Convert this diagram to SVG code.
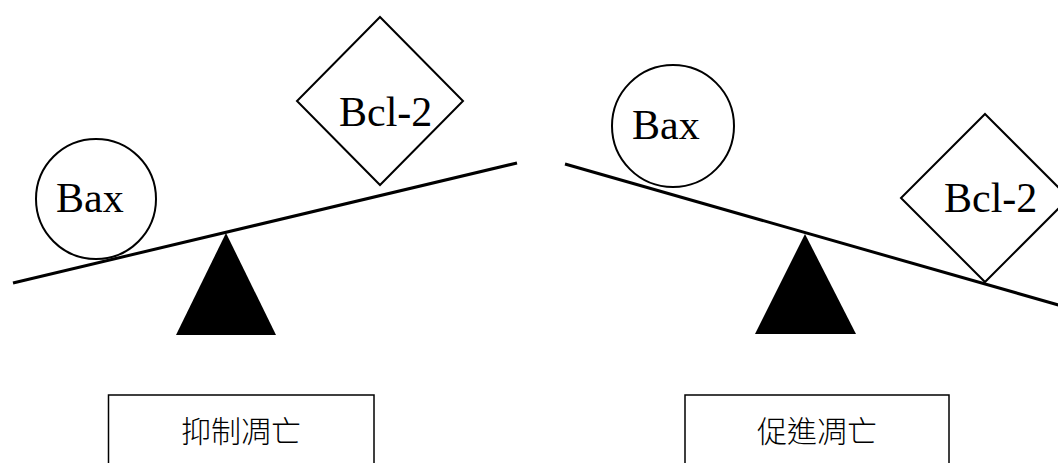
<svg xmlns="http://www.w3.org/2000/svg" width="1058" height="463" viewBox="0 0 1058 463">
<style>
.beam{stroke:#000;stroke-width:3;fill:none}
.shape{stroke:#000;stroke-width:2;fill:#fff}
.fulcrum{fill:#000}
.lbl{font-family:"Liberation Serif","Times New Roman",serif;font-size:42px;fill:#000}
.box{stroke:#000;stroke-width:1.5;fill:#fff}
.cjk{font-family:"Noto Sans CJK TC","Noto Sans CJK SC",sans-serif;font-size:30px;font-weight:300;fill:#000;text-anchor:middle}
</style>
<rect width="1058" height="463" fill="#fff"/>
<g id="connectors">
<line class="beam" x1="13" y1="283" x2="517" y2="163"/>
<line class="beam" x1="565" y1="164" x2="1062" y2="306"/>
</g>
<g id="fulcrum-left"><polygon class="fulcrum" points="226,233 176,335 276,335"/></g>
<g id="fulcrum-right"><polygon class="fulcrum" points="805,234 755,334 856,334"/></g>
<g id="bax-left">
<circle class="shape" cx="96" cy="199" r="60"/>
<text class="lbl" x="56" y="212">Bax</text>
</g>
<g id="bcl2-left">
<polygon class="shape" points="380,17 463,101 380,185 297,101"/>
<text class="lbl" x="339" y="126">Bcl-2</text>
</g>
<g id="bax-right">
<circle class="shape" cx="673" cy="126" r="61"/>
<text class="lbl" x="632" y="139">Bax</text>
</g>
<g id="bcl2-right">
<polygon class="shape" points="985,114 1069,198 985,282 901,198"/>
<text class="lbl" x="944" y="212">Bcl-2</text>
</g>
<g id="box-left">
<rect class="box" x="108.5" y="395" width="265.5" height="80"/>
<text class="cjk" x="241" y="442">抑制凋亡</text>
</g>
<g id="box-right">
<rect class="box" x="685" y="395" width="264" height="80"/>
<text class="cjk" x="817" y="442">促進凋亡</text>
</g>
</svg>
